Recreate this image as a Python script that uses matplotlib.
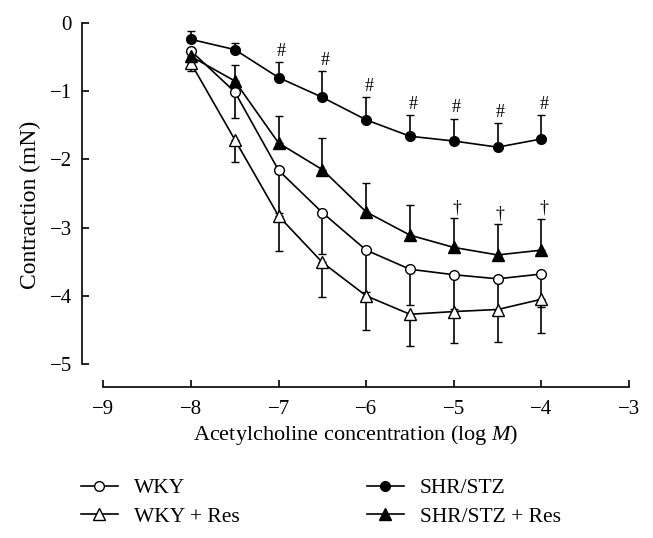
import matplotlib
matplotlib.use("Agg")
import numpy as np
from matplotlib import pyplot as plt

plt.rcParams['font.family'] = ['Liberation Serif', 'DejaVu Serif']
plt.rcParams['mathtext.fontset'] = 'custom'
plt.rcParams['mathtext.rm'] = 'Liberation Serif'
plt.rcParams['mathtext.it'] = 'Liberation Serif:italic'

# log concentration of acetylcholine
conc = [-8, -7.5, -7, -6.5, -6, -5.5, -5, -4.5, -4]

wky = [-0.41, -1.01, -2.16, -2.78, -3.33, -3.61, -3.69, -3.75, -3.68]
wky_err = [0.10, 0.38, 0.62, 0.61, 0.61, 0.52, 0.50, 0.50, 0.49]

wky_res = [-0.59, -1.71, -2.83, -3.51, -4.00, -4.27, -4.23, -4.20, -4.05]
wky_res_err = [0.12, 0.33, 0.51, 0.51, 0.50, 0.47, 0.46, 0.47, 0.49]

shr = [-0.24, -0.39, -0.80, -1.09, -1.42, -1.66, -1.73, -1.82, -1.70]
shr_err = [0.12, 0.10, 0.23, 0.39, 0.34, 0.31, 0.33, 0.36, 0.35]

shr_res = [-0.49, -0.85, -1.76, -2.15, -2.77, -3.11, -3.29, -3.40, -3.33]
shr_res_err = [0.08, 0.24, 0.40, 0.46, 0.43, 0.44, 0.43, 0.45, 0.46]

hash_idx = [2, 3, 4, 5, 6, 7, 8]   # '#' over SHR/STZ
dagger_idx = [6, 7, 8]             # '†' over SHR/STZ + Res

fig = plt.figure(figsize=(6.53, 5.38), dpi=100)
ax = fig.add_axes([81.5 / 653, 151 / 538, 547.5 / 653, 364 / 538])


def draw(y, err, marker, face, up, label, ms):
    zeros = np.zeros(len(err))
    yerr = [zeros, err] if up else [err, zeros]
    c = ax.errorbar(conc, y, yerr=yerr, color='black', lw=1.2, elinewidth=1.2,
                    capsize=3, capthick=1.2, marker=marker, ms=ms,
                    mfc=face, mec='black', mew=1.0, label=label, clip_on=False,
                    zorder=3)
    return c[0]


h_wky = draw(wky, wky_err, 'o', 'white', False, 'WKY', 7)
h_wkyr = draw(wky_res, wky_res_err, '^', 'white', False, 'WKY + Res', 8)
h_shr = draw(shr, shr_err, 'o', 'black', True, 'SHR/STZ', 7)
h_shrr = draw(shr_res, shr_res_err, '^', 'black', True, 'SHR/STZ + Res', 8)

for i in hash_idx:
    ax.annotate('#', (conc[i], shr[i] + shr_err[i]), xytext=(2, 1.5),
                textcoords='offset points', ha='center', va='bottom', fontsize=13)
for i in dagger_idx:
    ax.annotate('†', (conc[i], shr_res[i] + shr_res_err[i]), xytext=(2, 1.5),
                textcoords='offset points', ha='center', va='bottom', fontsize=13)

ax.set_xlim(-9.25, -3)
ax.set_ylim(-5.336, 0)
ax.spines['top'].set_visible(False)
ax.spines['right'].set_visible(False)
ax.spines['bottom'].set_bounds(-9, -3)
ax.spines['left'].set_bounds(-5, 0)
for s in ('bottom', 'left'):
    ax.spines[s].set_linewidth(1.2)
ax.set_xticks([-9, -8, -7, -6, -5, -4, -3])
ax.set_yticks([0, -1, -2, -3, -4, -5])
ax.tick_params(direction='in', length=5, width=1.2, labelsize=15)
ax.tick_params(axis='x', pad=9)
ax.tick_params(axis='y', pad=7)

ax.set_xlabel('Acetylcholine concentration (log $M$)', fontsize=16, labelpad=3)
ax.set_ylabel('Contraction (mN)', fontsize=17, labelpad=6)

kw = dict(frameon=False, fontsize=15.5, handlelength=1.7, handletextpad=0.75,
          labelspacing=0.4, borderaxespad=0, borderpad=0)
fig.legend([h_wky, h_wkyr], ['WKY', 'WKY + Res'], loc='upper left',
           bbox_to_anchor=(81 / 653, 1 - 478 / 538), **kw)
fig.legend([h_shr, h_shrr], ['SHR/STZ', 'SHR/STZ + Res'], loc='upper left',
           bbox_to_anchor=(367 / 653, 1 - 478 / 538), **kw)

fig.savefig('out.png', dpi=100)
